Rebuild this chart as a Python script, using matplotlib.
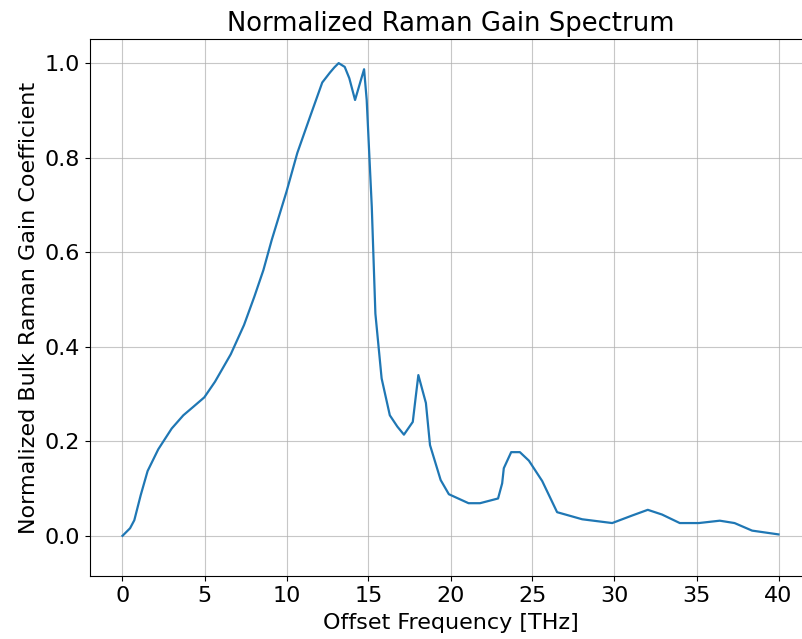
import numpy as np
import matplotlib
matplotlib.use("Agg")
import matplotlib.pyplot as plt

# Normalized bulk Raman gain vs offset frequency (THz)
freq = [0.0, 0.46, 0.72, 1.11, 1.53, 2.18, 3.0, 3.71, 4.32, 4.99, 5.64, 6.6,
        7.41, 8.04, 8.59, 9.1, 10.0, 10.66, 11.43, 12.18, 12.65, 12.92, 13.18,
        13.55, 13.83, 14.18, 14.73, 14.89, 15.2, 15.42, 15.8, 16.3, 16.76,
        17.16, 17.7, 17.88, 18.04, 18.5, 18.75, 19.4, 19.9, 21.1, 21.8, 22.9,
        23.15, 23.25, 23.7, 24.23, 24.78, 25.59, 26.5, 28.03, 29.86, 31.08,
        32.03, 32.9, 33.98, 35.14, 36.42, 37.32, 38.39, 40.0]
gain = [0.0, 0.016, 0.033, 0.086, 0.137, 0.183, 0.227, 0.255, 0.273, 0.293,
        0.326, 0.384, 0.446, 0.506, 0.562, 0.626, 0.728, 0.81, 0.886, 0.959,
        0.98, 0.991, 1.0, 0.992, 0.968, 0.922, 0.987, 0.922, 0.696, 0.47,
        0.333, 0.255, 0.231, 0.214, 0.241, 0.294, 0.34, 0.281, 0.192, 0.118,
        0.088, 0.069, 0.069, 0.079, 0.111, 0.143, 0.177, 0.177, 0.159, 0.116,
        0.05, 0.035, 0.027, 0.043, 0.055, 0.045, 0.027, 0.027, 0.032, 0.027,
        0.011, 0.003]

plt.rcParams['font.size'] = 16

fig = plt.figure(figsize=(8.03, 6.39), dpi=100)
ax = fig.add_axes([89.7 / 803, 1 - 576 / 639, (811.3 - 89.7) / 803, (576 - 39) / 639])
ax.plot(freq, gain, color='tab:blue', linewidth=1.6)
ax.set_title('Normalized Raman Gain Spectrum', fontsize=18.6)
ax.set_xlabel('Offset Frequency [THz]', labelpad=5)
ax.set_ylabel('Normalized Bulk Raman Gain Coefficient')
ax.set_xlim(-2, 42)
ax.set_ylim(-0.085, 1.051)
ax.set_xticks(np.arange(0, 41, 5))
ax.set_yticks(np.arange(0, 1.01, 0.2))
ax.grid(True, alpha=0.7)

fig.savefig('out.png', dpi=100)
